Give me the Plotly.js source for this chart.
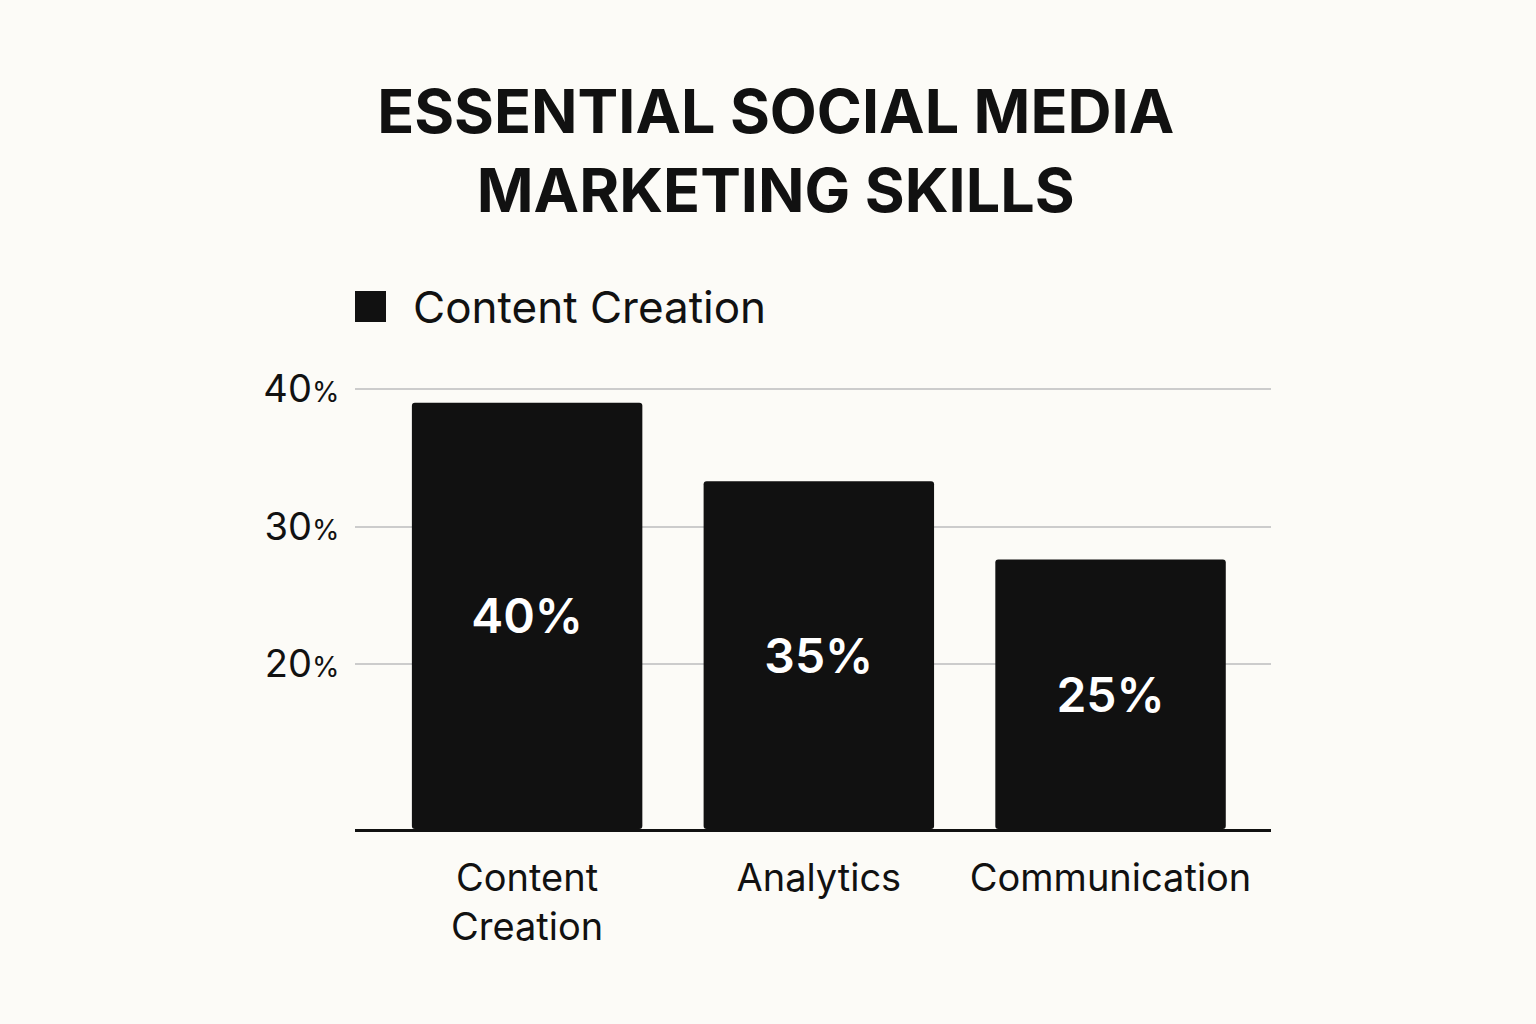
<!DOCTYPE html>
<html>
<head>
<meta charset="utf-8">
<script src="https://cdn.plot.ly/plotly-3.0.1.min.js"></script>
<style>
  html, body { margin: 0; padding: 0; background: #fcfbf7; }
  #chart { width: 1536px; height: 1024px; }
</style>
</head>
<body>
<div id="chart"></div>
<script>
// Values as drawn in the picture (bar heights) and the labels printed on them.
var seriesName = "Content Creation";
var categories = ["Content<br>Creation", "Analytics", "Communication"];
var barHeights = [39, 33.3, 27.6];
var barLabels = ["40%", "35%", "25%"];
var axisFloor = 8;
var tickValues = [20, 30, 40];
var tickLabels = ["20<span style='font-size:28px'>%</span>",
                  "30<span style='font-size:28px'>%</span>",
                  "40<span style='font-size:28px'>%</span>"];

var bgColor = "#fcfbf7";
var ink = "#111111";

// Bars start at the bottom of the visible axis so the labels sit in the visible middle.
var trace = {
    type: "bar",
    name: seriesName,
    x: categories,
    base: axisFloor,
    y: barHeights.map(function (h) { return h - axisFloor; }),
    text: barLabels,
    textposition: "inside",
    insidetextanchor: "middle",
    textfont: { family: "Inter, sans-serif", size: 48, color: "#ffffff", weight: 600 },
    width: 0.79,
    marker: { color: ink, line: { width: 0 }, cornerradius: 3 },
    hoverinfo: "skip"
};

var layout = {
    width: 1536,
    height: 1024,
    paper_bgcolor: bgColor,
    plot_bgcolor: bgColor,
    margin: { t: 385, r: 265, b: 195, l: 355 },
    showlegend: false,
    font: { family: "Inter, sans-serif", color: ink },
    title: {
        text: "ESSENTIAL SOCIAL MEDIA<br>MARKETING SKILLS",
        font: { family: "Inter, sans-serif", size: 61, color: ink, weight: 700 },
        x: 0.505,
        xanchor: "center",
        y: 0.87,
        yanchor: "top"
    },
    xaxis: {
        type: "category",
        range: [-0.59, 2.55],
        showgrid: false,
        zeroline: false,
        showline: true,
        linecolor: ink,
        linewidth: 3,
        ticks: "outside",
        ticklen: 13,
        tickcolor: "rgba(0,0,0,0)",
        tickfont: { family: "Inter, sans-serif", size: 38, color: ink },
        fixedrange: true
    },
    yaxis: {
        range: [axisFloor, 40.3],
        tickvals: tickValues,
        ticktext: tickLabels,
        showgrid: true,
        gridcolor: "#cccccc",
        gridwidth: 2,
        zeroline: false,
        showline: false,
        ticks: "outside",
        ticklen: 7,
        tickcolor: "rgba(0,0,0,0)",
        tickfont: { family: "Inter, sans-serif", size: 38, color: ink },
        fixedrange: true
    },
    // Legend drawn as a large square swatch and label, as in the picture.
    shapes: [{
        type: "rect", xref: "paper", yref: "paper",
        x0: 0, x1: 31 / 916, y0: 1 + (385 - 322) / 444, y1: 1 + (385 - 291) / 444,
        fillcolor: ink, line: { width: 0 }
    }],
    annotations: [{
        xref: "paper", yref: "paper",
        x: 56 / 916, y: 1 + (385 - 307) / 444,
        xanchor: "left", yanchor: "middle",
        text: seriesName, showarrow: false,
        font: { family: "Inter, sans-serif", size: 44, color: ink }
    }]
};

Plotly.newPlot("chart", [trace], layout, { displayModeBar: false, staticPlot: true });
</script>
</body>
</html>
